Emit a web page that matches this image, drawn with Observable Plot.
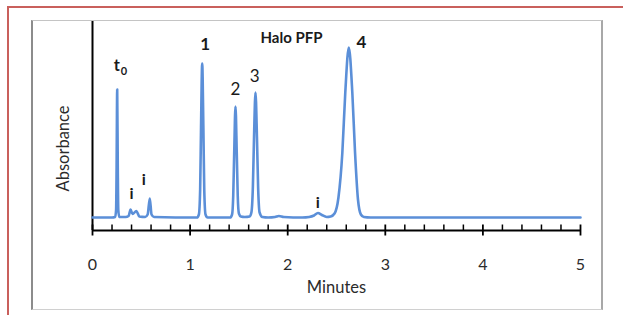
<!DOCTYPE html>
<html>
<head>
<meta charset="utf-8">
<script src="https://cdn.jsdelivr.net/npm/d3@7"></script>
<script src="https://cdn.jsdelivr.net/npm/@observablehq/plot@0.6"></script>
<style>
  html, body { margin: 0; padding: 0; background: #fff; }
  #wrap { position: relative; width: 623px; height: 315px; overflow: hidden; background: #fff; }
  #wrap svg { position: absolute; left: 0; top: 0; }
  .red-top { position: absolute; left: 7px; top: 6px; width: 616px; height: 2px; background: #c9605c; }
  .red-left { position: absolute; left: 7px; top: 6px; width: 2px; height: 309px; background: #c9605c; }
  .box { position: absolute; left: 31px; top: 20px; width: 568px; height: 288px;
         border-top: 1px solid #c4c4c4; border-right: 2px solid #a8a8a8;
         border-bottom: 1px solid #d0d0d0; border-left: 2px solid #8c8c8c; }
</style>
</head>
<body>
<div id="wrap">
  <div class="red-top"></div>
  <div class="red-left"></div>
  <div class="box"></div>
</div>
<script>
// Chromatogram trace (time in minutes, absorbance in arbitrary units)
const times = [
  0, 0.20, 0.232, 0.242, 0.247, 0.253, 0.259, 0.264, 0.274,
  0.34, 0.37, 0.39, 0.41, 0.45, 0.48, 0.54, 0.565, 0.587, 0.605, 0.63,
  1.07, 1.09, 1.103, 1.112, 1.124, 1.136, 1.145, 1.158, 1.18,
  1.41, 1.43, 1.442, 1.452, 1.465, 1.478, 1.488, 1.50, 1.52, 1.56,
  1.61, 1.628, 1.643, 1.655, 1.670, 1.685, 1.697, 1.712, 1.74,
  1.80, 1.87, 1.91, 1.96,
  2.15, 2.22, 2.27, 2.31, 2.35, 2.40,
  2.44, 2.48, 2.52, 2.56, 2.59, 2.626, 2.662, 2.69, 2.72, 2.75, 2.78, 2.85,
  5.0
];
const absorbance = [
  0, 0, 0.5, 8, 50, 128, 50, 8, 0.5,
  0.5, 1.5, 8, 3.5, 6.5, 1, 0.5, 3, 19, 3, 0.5,
  0, 3, 28, 90, 154, 90, 28, 3, 0,
  0, 3, 22, 65, 111, 65, 22, 4, 1, 0.5,
  1, 5, 30, 80, 125, 80, 30, 5, 0.5,
  0, 0.5, 1.5, 0.5,
  0, 0.5, 2, 4.5, 2.5, 0.5,
  1, 4, 20, 65, 125, 170, 125, 65, 18, 3, 0.5, 0,
  0
];

const axisValue = -13; // absorbance at the x axis line
const majorTicks = [0, 1, 2, 3, 4, 5];
const minorTicks = [0.2, 0.4, 0.6, 0.8, 1.2, 1.4, 1.6, 1.8, 2.2, 2.4, 2.6, 2.8,
                    3.2, 3.4, 3.6, 3.8, 4.2, 4.4, 4.6, 4.8];

// Annotations (anchor in data units)
const boldPeakLabels = ["1", "4"];
const boldPeakTimes = [1.155, 2.756];
const boldPeakValues = [173, 175];
const peakLabels = ["2", "3"];
const peakLabelTimes = [1.465, 1.663];
const peakLabelValues = [128, 141];

const impurityLabels = ["i", "i", "i"];
const impurityTimes = [0.40, 0.526, 2.308];
const impurityValues = [24, 38, 15];

const title = "Halo PFP";
const xLabel = "Minutes";
const yLabel = "Absorbance";

const trace = times.map((t, i) => ({time: t, absorbance: absorbance[i]}));
const boldPeaks = boldPeakLabels.map((s, i) => ({s, t: boldPeakTimes[i], v: boldPeakValues[i]}));
const peaks = peakLabels.map((s, i) => ({s, t: peakLabelTimes[i], v: peakLabelValues[i]}));
const imps = impurityLabels.map((s, i) => ({s, t: impurityTimes[i], v: impurityValues[i]}));

const font = "Lato, 'Open Sans', sans-serif";
const lineColor = "#5b8fd8";

const chart = Plot.plot({
  width: 623,
  height: 315,
  marginLeft: 92,
  marginRight: 43,
  marginTop: 21,
  marginBottom: 85,
  style: {background: "transparent", fontFamily: font, overflow: "visible"},
  x: {domain: [0, 5], axis: null},
  y: {domain: [-13, 196], axis: null},
  marks: [
    // axis lines
    Plot.ruleX([0], {stroke: "#000", strokeWidth: 2}),
    Plot.ruleY([axisValue], {stroke: "#000", strokeWidth: 2}),
    // minor ticks (inside) and major ticks (crossing)
    Plot.ruleX(minorTicks, {x: d => d, y1: axisValue, y2: axisValue + 5.5, stroke: "#000", strokeWidth: 1.5}),
    Plot.ruleX(majorTicks, {x: d => d, y1: axisValue - 5.5, y2: axisValue + 5.5, stroke: "#000", strokeWidth: 1.8}),
    // tick labels
    Plot.text(majorTicks, {x: d => d, text: d => String(d), frameAnchor: "bottom", dy: 34,
      textAnchor: "middle", lineAnchor: "middle", fontSize: 16, fill: "#2b2b2b"}),
    Plot.text([xLabel], {frameAnchor: "bottom", dy: 57, textAnchor: "middle", lineAnchor: "middle", fontSize: 16.5, fill: "#2b2b2b"}),
    Plot.text([yLabel], {frameAnchor: "left", y: [69], rotate: -90, dx: -29, textAnchor: "middle", lineAnchor: "middle",
      fontSize: 16.5, fill: "#2b2b2b"}),
    // the chromatogram
    Plot.line(trace, {x: "time", y: "absorbance", curve: "monotone-x", stroke: lineColor, strokeWidth: 2.6,
      strokeLinejoin: "round"}),
    // annotations
    Plot.text(boldPeaks, {x: "t", y: "v", text: "s", fontSize: 17, fontWeight: "bold", fill: "#1a1a1a", lineAnchor: "middle"}),
    Plot.text(peaks, {x: "t", y: "v", text: "s", fontSize: 17, fill: "#1a1a1a", lineAnchor: "middle"}),
    Plot.text(imps, {x: "t", y: "v", text: "s", fontSize: 16, fontWeight: "bold", fill: "#1a1a1a", lineAnchor: "middle"}),
    Plot.text(["t"], {x: [0.249], y: [152], text: d => d, fontSize: 16.5, fontWeight: "bold", fill: "#1a1a1a", lineAnchor: "middle"}),
    Plot.text(["0"], {x: [0.322], y: [146], text: d => d, fontSize: 11, fontWeight: "bold", fill: "#1a1a1a", lineAnchor: "middle"}),
    Plot.text([title], {x: [2.039], y: [179], text: d => d, fontSize: 15, fontWeight: "bold", fill: "#1a1a1a", lineAnchor: "middle"})
  ]
});

document.getElementById("wrap").appendChild(chart);
</script>
</body>
</html>
